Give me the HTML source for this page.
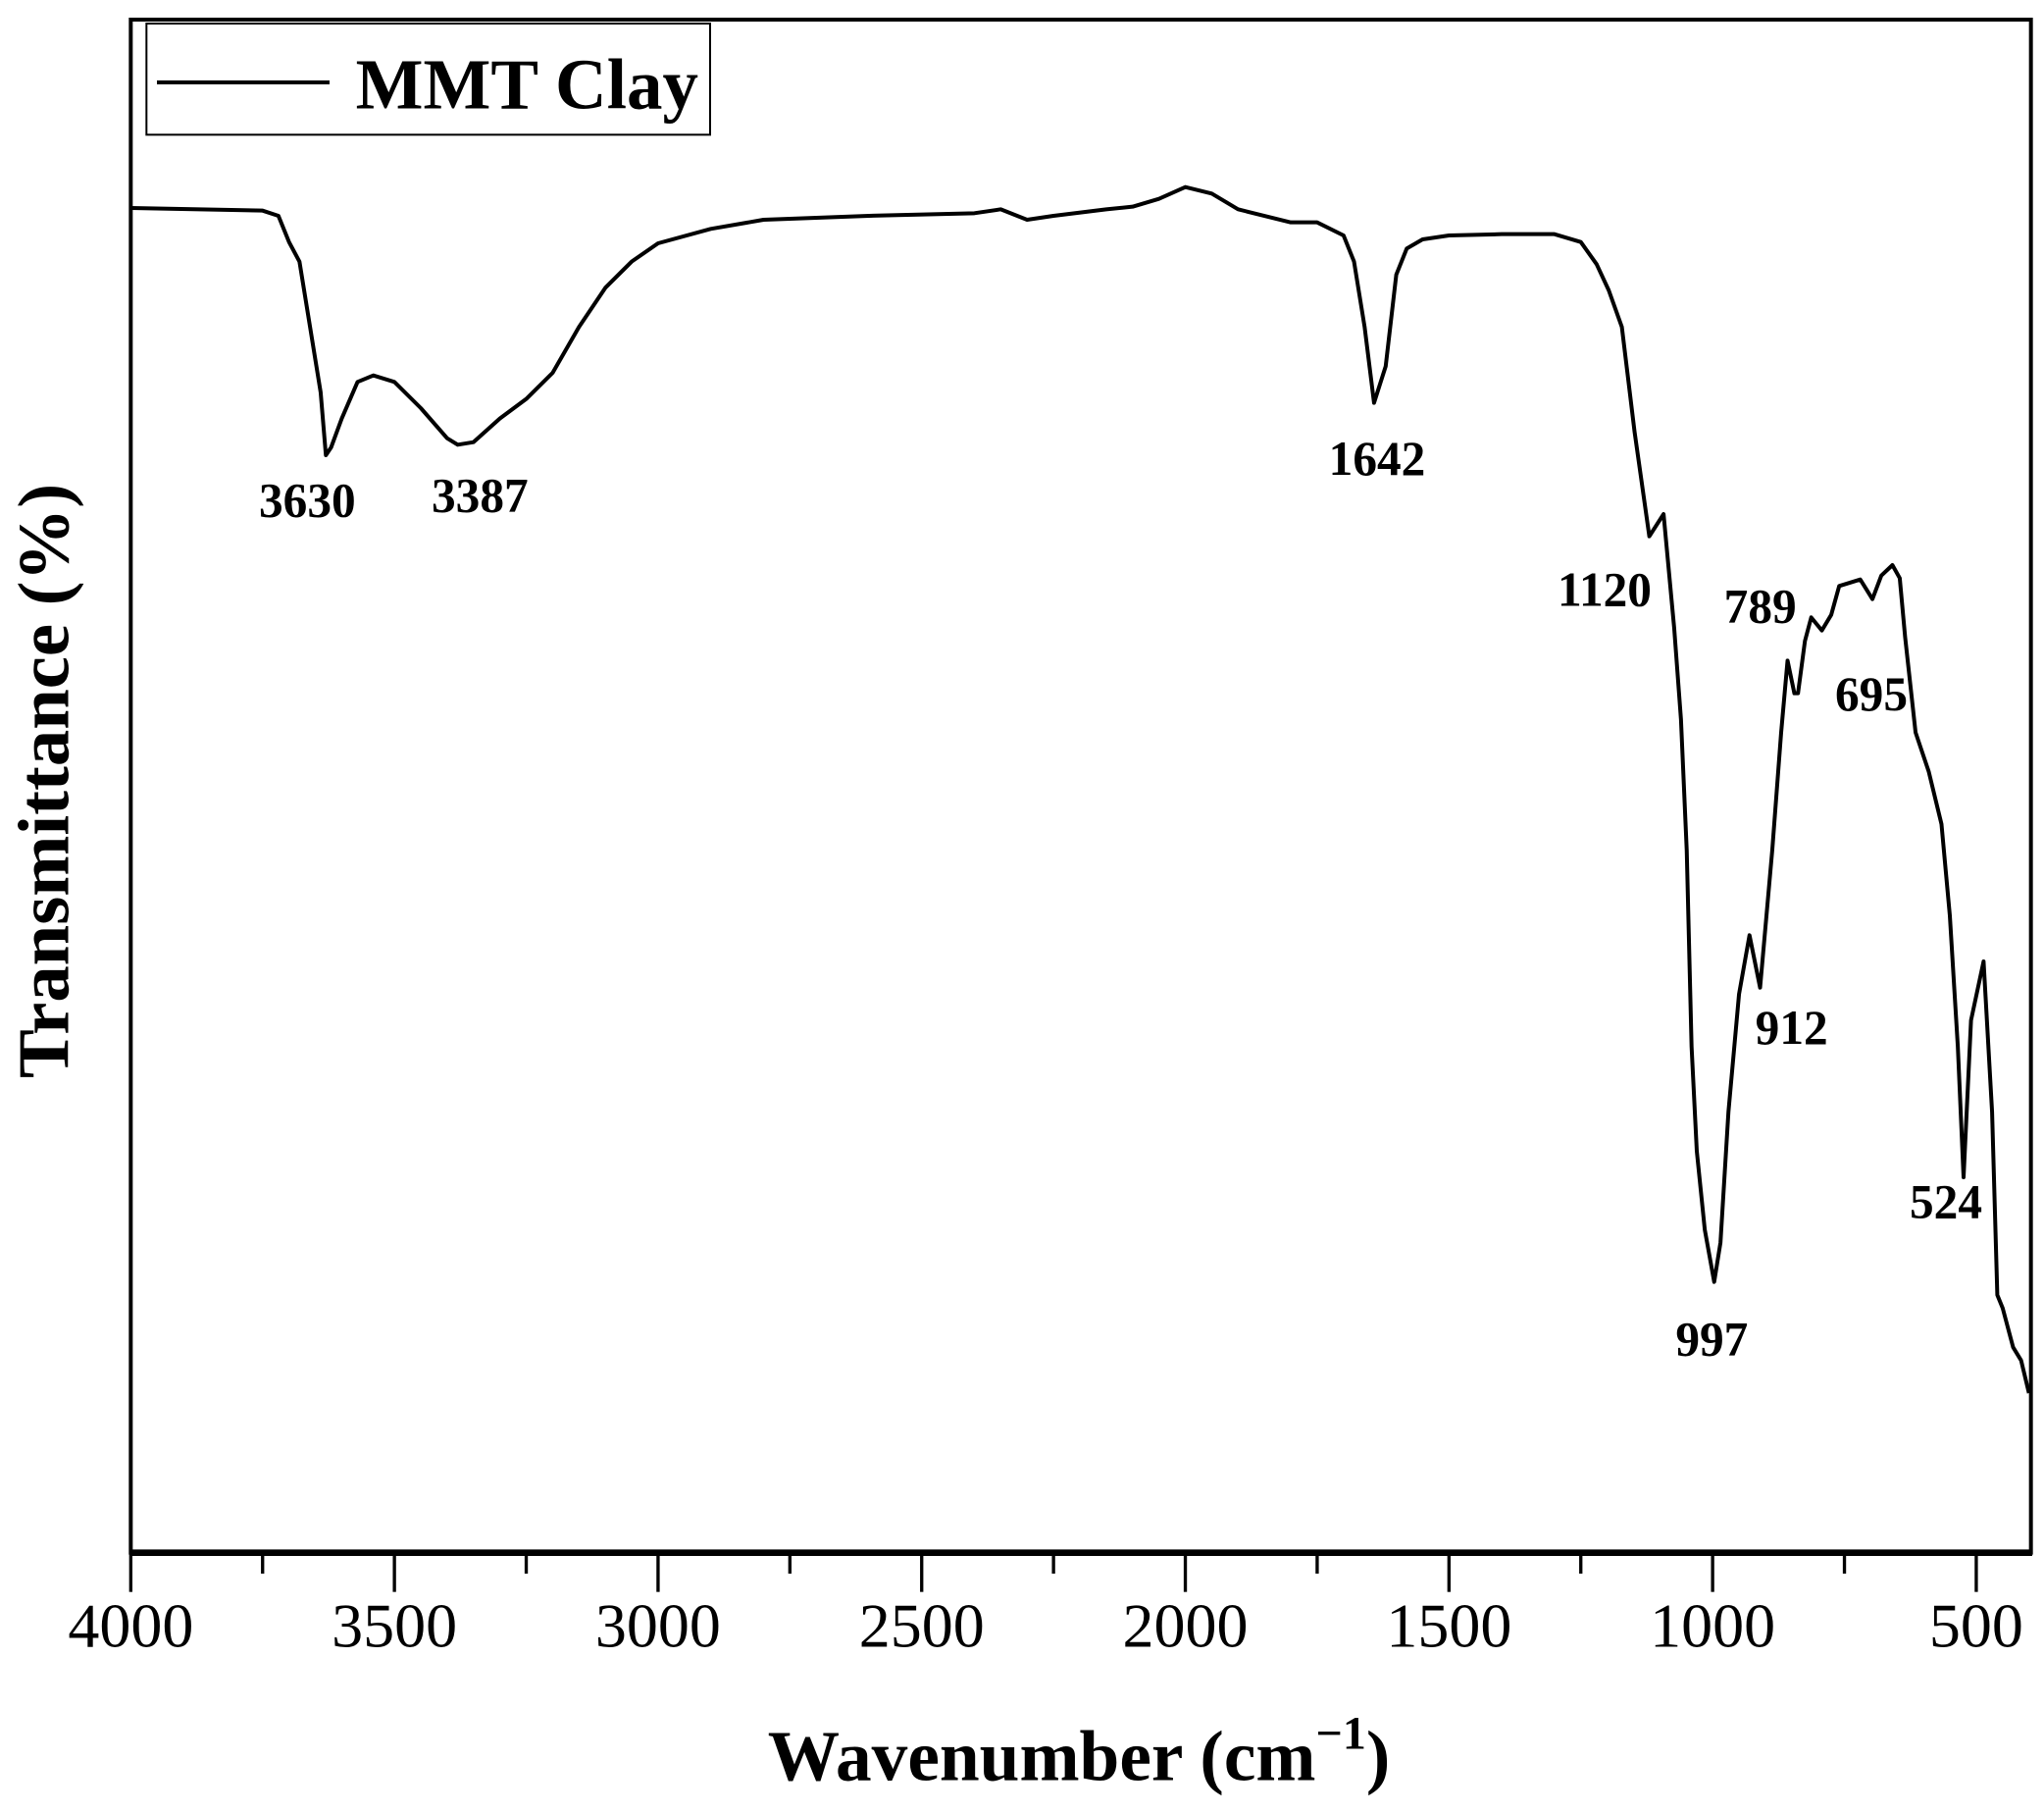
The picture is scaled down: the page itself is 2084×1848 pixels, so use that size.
<!DOCTYPE html>
<html><head><meta charset="utf-8"><style>
html,body{margin:0;padding:0;background:#fff;}
svg{display:block;}
text{font-family:"Liberation Serif",serif;fill:#000;}
</style></head><body>
<svg id="chart" width="2084" height="1848" viewBox="0 0 1563 1386" preserveAspectRatio="none" xmlns="http://www.w3.org/2000/svg">
<g id="axes"></g>
<path id="curve" fill="none" stroke="#000" stroke-width="3" stroke-linejoin="round"></path>
<g id="peaks"></g>
<g>
<rect x="112" y="18" width="431" height="85" fill="#fff" stroke="#000" stroke-width="1.5"/>
<line x1="120" y1="63" x2="252" y2="63" stroke="#000" stroke-width="3"/>
<text x="272" y="83" font-size="55" font-weight="bold" textLength="262" lengthAdjust="spacingAndGlyphs">MMT Clay</text>
</g>
<text x="825" y="1361" font-size="55" font-weight="bold" text-anchor="middle">Wavenumber (cm<tspan dy="-24" font-size="36">−1</tspan><tspan dy="24">)</tspan></text>
<text transform="translate(52,597) rotate(-90)" font-size="56" font-weight="bold" text-anchor="middle">Transmittance (%)</text>
</svg>
<script>
const wavenumbers=[4000,3750,3720,3700,3680,3660,3640,3630,3620,3600,3570,3540,3500,3450,3400,3380,3350,3300,3250,3200,3150,3100,3050,3000,2900,2800,2600,2400,2350,2300,2250,2150,2100,2050,2000,1950,1900,1800,1750,1700,1680,1660,1642,1620,1600,1580,1550,1500,1400,1300,1250,1220,1197,1172,1148,1120,1093,1073,1060,1049,1040,1030,1015,997,985,970,950,930,910,887,870,858,845,838,825,813,793,775,760,720,697,680,659,645,635,615,590,566,550,535,524,510,486,470,460,450,430,415,400];
const transmittance=[1028,1026,1022,1002,987,937,887,839,845,867,895,900,895,875,852,847,849,867,882,902,937,967,987,1001,1012,1019,1022,1024,1027,1019,1022,1027,1029,1035,1044,1039,1027,1017,1017,1007,987,937,879,907,977,997,1004,1007,1008,1008,1002,985,965,937,857,777,794,707,637,537,387,307,247,207,237,337,427,472,432,537,627,682,657,657,697,715,705,717,739,744,729,747,755,745,700,627,597,557,487,387,287,407,452,337,197,187,157,147,122];
const xTicks=[4000,3500,3000,2500,2000,1500,1000,500];
const peakLabels=["3630","3387","1642","1120","997","912","789","695","524"];
const peakLabelPos=[[235,382],[367,378],[1053,350],[1227,450],[1309,1023],[1370,785],[1346,463],[1431,530],[1488,918]];
const L=100,R=1553,T=15,B=1187;
function xs(w){return L+(4000-w)/500*201.6;}
function ys(v){return B-v;}
const ns="http://www.w3.org/2000/svg";
const axes=document.getElementById('axes');
function mk(tag,attrs,parent){const e=document.createElementNS(ns,tag);for(const k in attrs)e.setAttribute(k,attrs[k]);parent.appendChild(e);return e;}
const frame=mk('rect',{x:L,y:T,width:R-L,height:B-T,fill:'none',stroke:'#000','stroke-width':3},axes);


const bottom=mk('line',{x1:L-1,y1:B,x2:R+1,y2:B,stroke:'#000','stroke-width':5},axes);


for(let w=4000;w>=500;w-=250){
  const major=w%500===0;
  const t=mk('line',{x1:xs(w),y1:B,x2:xs(w),y2:B+(major?30:16),stroke:'#000','stroke-width':2.5},axes);
  
  
}
xTicks.forEach(w=>{
  const t=mk('text',{x:xs(w),y:1259,'font-size':48,'text-anchor':'middle'},axes);
  t.textContent=w;
  
  
});
let d='';
wavenumbers.forEach((w,i)=>{d+=(i?'L':'M')+xs(w).toFixed(1)+' '+ys(transmittance[i]).toFixed(1);});
document.getElementById('curve').setAttribute('d',d);
const pg=document.getElementById('peaks');
peakLabels.forEach((s,i)=>{
  const t=mk('text',{x:peakLabelPos[i][0],y:peakLabelPos[i][1]+13,'font-size':37,'font-weight':'bold','text-anchor':'middle'},pg);
  t.textContent=s;
  
  
});
</script>
</body></html>
